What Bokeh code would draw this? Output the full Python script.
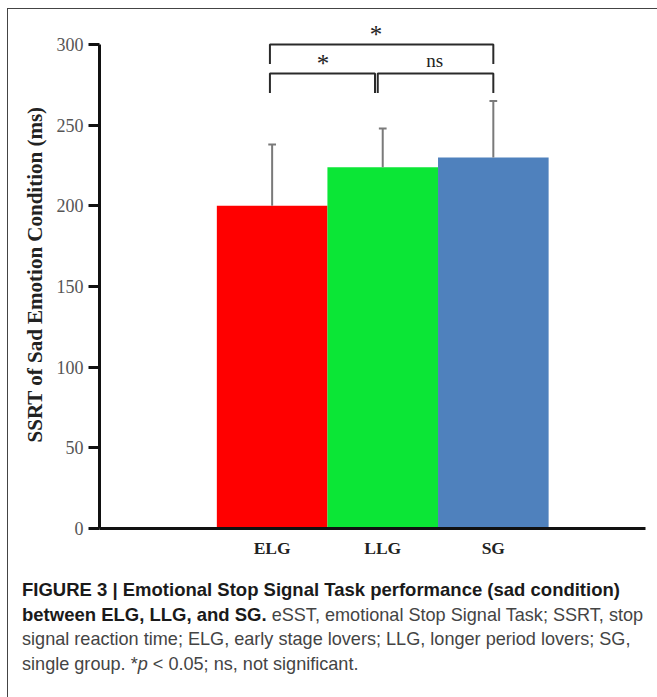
from bokeh.plotting import figure
from bokeh.models import Range1d, FixedTicker, Div
from bokeh.layouts import column
from bokeh.embed import file_html
from bokeh.resources import INLINE
from bokeh.core.properties import value

# ---- data ----
groups = ["ELG", "LLG", "SG"]
group_x = [1, 2, 3]
means = [200, 224, 230]
err_top = [238, 248, 265]
colors = ["#FF0000", "#0BE636", "#4F81BD"]
y_ticks = [0, 50, 100, 150, 200, 250, 300]

# significance brackets: left x, right x, bar height, leg bottom
br_x0 = [0.98, 0.98, 1.955]
br_x1 = [3.0, 1.93, 3.0]
br_y = [300, 282, 282]
br_drop = [288, 270, 270]
sig_text = ["*", "*", "ns"]
sig_x = [1.94, 1.46, 2.47]
sig_y = [306, 288, 290]
sig_size = ["25px", "25px", "19px"]

SERIF = "Liberation Serif"

p = figure(width=641, height=567, output_backend="svg", toolbar_location=None,
           x_range=Range1d(-0.561, 4.376), y_range=Range1d(0, 314.9),
           min_border_left=91, min_border_right=4, min_border_top=11, min_border_bottom=48)
p.outline_line_color = None
p.xgrid.visible = False
p.ygrid.visible = False
p.background_fill_color = "white"
p.border_fill_color = "white"

# bars
p.vbar(x=group_x, top=means, bottom=0, width=1.0, fill_color=colors, line_color=None)

# error bars (upper only)
cap = 0.035
p.segment(x0=group_x, y0=means, x1=group_x, y1=err_top, line_color="#7a7a7a", line_width=2)
p.segment(x0=[g - cap for g in group_x], y0=err_top, x1=[g + cap for g in group_x], y1=err_top,
          line_color="#7a7a7a", line_width=2)

# brackets
xs = [[a, a, b, b] for a, b in zip(br_x0, br_x1)]
ys = [[d, y, y, d] for y, d in zip(br_y, br_drop)]
p.multi_line(xs=xs, ys=ys, line_color="#2a2a2a", line_width=2)

p.text(x=sig_x, y=sig_y, text=sig_text, text_align="center", text_baseline="middle",
       text_font=value(SERIF), text_font_size=sig_size, text_color="#222222")

# axes
xa = p.xaxis[0]
xa.ticker = FixedTicker(ticks=group_x)
xa.major_label_overrides = {g: n for g, n in zip(group_x, groups)}
xa.major_tick_out = 0
xa.major_tick_in = 0
xa.minor_tick_out = 0
xa.minor_tick_in = 0
xa.axis_line_width = 3
xa.axis_line_color = "#111111"
xa.major_label_text_font = SERIF
xa.major_label_text_font_size = "17.5px"
xa.major_label_text_font_style = "bold"
xa.major_label_text_color = "#222222"
xa.major_label_standoff = 9

ya = p.yaxis[0]
ya.ticker = FixedTicker(ticks=y_ticks)
ya.bounds = (0, 300)
ya.axis_line_width = 3
ya.axis_line_color = "#111111"
ya.major_tick_line_width = 3
ya.major_tick_line_color = "#111111"
ya.major_tick_out = 11
ya.major_tick_in = 0
ya.minor_tick_out = 0
ya.minor_tick_in = 0
ya.major_label_text_font = SERIF
ya.major_label_text_font_size = "18px"
ya.major_label_text_color = "#555555"
ya.major_label_standoff = 5
ya.axis_label = "SSRT of Sad Emotion Condition (ms)"
ya.axis_label_text_font = SERIF
ya.axis_label_text_font_size = "21px"
ya.axis_label_text_font_style = "bold"
ya.axis_label_text_color = "#222222"
ya.axis_label_standoff = 7

caption = Div(width=641, height=112, text=(
    '<div style="font-family:\'Liberation Sans\',Arial,sans-serif;font-size:18.1px;'
    'line-height:24.5px;color:#444;padding-left:9px;margin-top:-3px;white-space:nowrap">'
    '<b style="color:#1a1a1a;font-size:18.5px">FIGURE 3 | Emotional Stop Signal Task performance (sad condition)</b><br>'
    '<b style="color:#1a1a1a;font-size:18.5px">between ELG, LLG, and SG.</b> eSST, emotional Stop Signal Task; SSRT, stop<br>'
    'signal reaction time; ELG, early stage lovers; LLG, longer period lovers; SG,<br>'
    'single group. *<i>p</i> &lt; 0.05; ns, not significant.'
    '</div>'))

layout = column(p, caption, styles={"border-top": "1px solid #444", "border-left": "1px solid #444",
                                    "margin-left": "7px", "margin-top": "8px"})

open("out.html", "w").write(file_html(layout, INLINE))
